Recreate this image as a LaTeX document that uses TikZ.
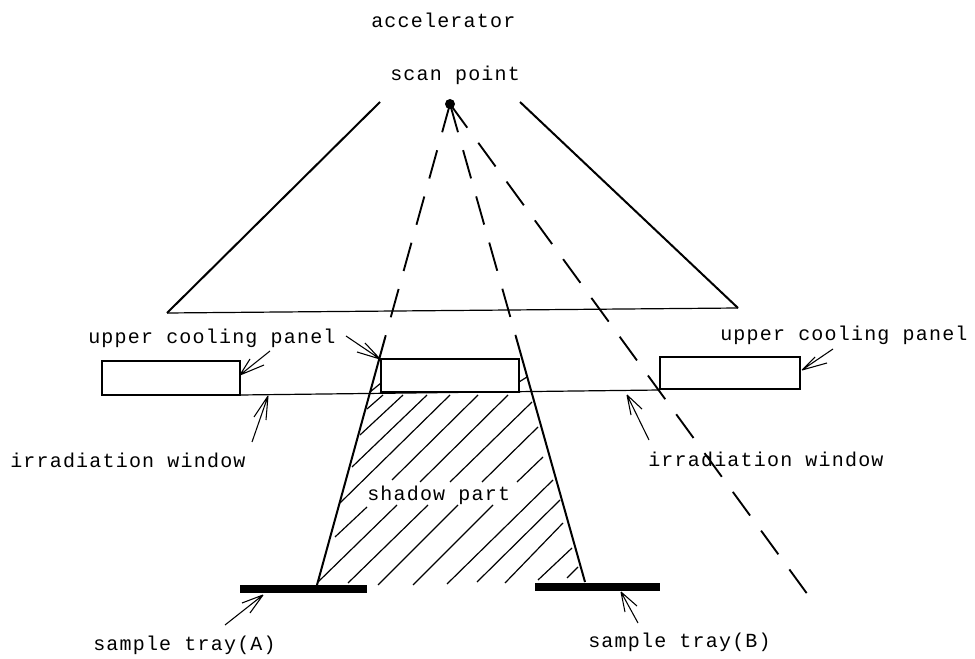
\documentclass[tikz,border=0pt]{standalone}
\usepackage{fontspec}
\setmainfont{Liberation Mono}
\newfontfamily\lblfont[LetterSpace=6]{Liberation Mono}
\begin{document}
\begin{tikzpicture}[x=0.75pt,y=-0.75pt,
  lbl/.style={font=\lblfont\fontsize{15}{17}\selectfont,inner sep=0pt,anchor=base west},
  thin line/.style={draw=black,line width=0.9pt},
  thick line/.style={draw=black,line width=1.5pt},
  panel/.style={draw=black,line width=1.5pt,fill=white},
  dashline/.style={draw=black,line width=1.4pt,dash pattern=on 22pt off 14pt},
  ptr/.style={draw=black,line width=0.8pt},
  hatch/.style={draw=black,line width=0.9pt},
  tray/.style={draw=none,fill=black}]
\useasboundingbox (0,0) rectangle (975,659);
\fill[white] (0,0) rectangle (975,659);
% triangle
\coordinate (tl) at (380,102); \coordinate (bl) at (167,313);
\coordinate (br) at (738,308); \coordinate (tr) at (520,102);
\draw[thick line] (tl) -- (bl);
\draw[thin line] (bl) -- (br);
\draw[thick line] (br) -- (tr);
% window
\coordinate (wl) at (240,395); \coordinate (wr) at (660,390);
\draw[thin line] (wl) -- (wr);
% panels
\draw[panel] (102,361) rectangle (240,395);
\draw[panel] (381,359) rectangle (519,392);
\draw[panel] (660,357) rectangle (800,389);
% hatch
\foreach \a/\b/\c/\d in {
 367/409/383/395, 360/435/403/395, 352/467/427/395, 340/503/450/395,
 392/480/478/395, 420/482/508/395, 450/482/532/402, 482/482/538/427,
 517/482/543/457, 335/537/367/507, 318/582/397/505, 348/583/428/505,
 378/585/458/505, 413/585/493/505, 447/584/553/480, 477/582/560/500,
 505/583/563/523, 538/580/572/548, 567/578/578/567,
 370/392/381/383, 519/382/527/377}
  {\draw[hatch] (\a,\b) -- (\c,\d);}
% rays
\coordinate (sp) at (450,104);
\coordinate (a1) at (385,338); \coordinate (a2) at (317,585);
\coordinate (b1) at (516,337); \coordinate (b2) at (585,582);
\coordinate (c) at (808,595);
\fill (sp) circle (5);
\draw[dashline] (sp) -- (a1);
\draw[dashline] (sp) -- (b1);
\draw[dashline] (sp) -- (c);
\draw[thick line] (a1) -- (a2);
\draw[thick line] (b1) -- (b2);
% trays
\fill[tray] (240,585) rectangle (367,593);
\fill[tray] (535,583) rectangle (660,591);
% labels
\node[lbl] (acc) at (371,28) {accelerator};
\node[lbl] (sc) at (390,81) {scan point};
\node[lbl] (u1) at (88,344) {upper cooling panel};
\node[lbl] (u2) at (720,341) {upper cooling panel};
\node[lbl] (w1) at (10,467) {irradiation window};
\node[lbl] (w2) at (648,466) {irradiation window};
\node[lbl] (sh) at (367,500) {shadow part};
\node[lbl] (ta) at (93,650) {sample tray(A)};
\node[lbl] (tb) at (588,647) {sample tray(B)};
% pointers
\coordinate (e1) at (270,351); \coordinate (h1) at (240,375);
\draw[ptr] (e1) -- (h1) (h1) -- (250,359) (h1) -- (264,365);
\coordinate (e2) at (346,336); \coordinate (h2) at (380,359);
\draw[ptr] (e2) -- (h2) (h2) -- (365,343) (h2) -- (357,352);
\coordinate (e3) at (252,442); \coordinate (h3) at (268,396);
\draw[ptr] (e3) -- (h3) (h3) -- (254,417) (h3) -- (266,420);
\coordinate (e4) at (649,440); \coordinate (h4) at (627,395);
\draw[ptr] (e4) -- (h4) (h4) -- (631,415) (h4) -- (642,409);
\coordinate (e5) at (833,349); \coordinate (h5) at (802,370);
\draw[ptr] (e5) -- (h5) (h5) -- (815,357) (h5) -- (827,363);
\coordinate (e6) at (225,625); \coordinate (h6) at (263,595);
\draw[ptr] (e6) -- (h6) (h6) -- (242,603) (h6) -- (250,613);
\coordinate (e7) at (638,623); \coordinate (h7) at (621,592);
\draw[ptr] (e7) -- (h7) (h7) -- (625,612) (h7) -- (637,606);
\end{tikzpicture}
\end{document}
